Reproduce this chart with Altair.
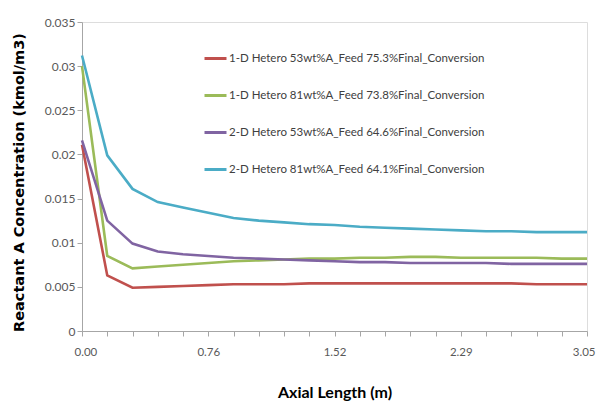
import altair as alt
import pandas as pd
import json

series_names = [
    "1-D Hetero 53wt%A_Feed 75.3%Final_Conversion",
    "1-D Hetero 81wt%A_Feed 73.8%Final_Conversion",
    "2-D Hetero 53wt%A_Feed 64.6%Final_Conversion",
    "2-D Hetero 81wt%A_Feed 64.1%Final_Conversion",
]
colors = ["#C0504D", "#9BBB59", "#8064A2", "#4BACC6"]

# axial positions (category index 0..20 spanning 0 to 3.05 m)
positions = list(range(21))
x_tick_labels = ["0.00", "0.76", "1.52", "2.29", "3.05"]

red = [0.0211, 0.0063, 0.0049, 0.0050, 0.0051, 0.0052, 0.0053, 0.0053, 0.0053, 0.0054, 0.0054,
       0.0054, 0.0054, 0.0054, 0.0054, 0.0054, 0.0054, 0.0054, 0.0053, 0.0053, 0.0053]
green = [0.0300, 0.0085, 0.0071, 0.0073, 0.0075, 0.0077, 0.0079, 0.0080, 0.0081, 0.0082, 0.0082,
         0.0083, 0.0083, 0.0084, 0.0084, 0.0083, 0.0083, 0.0083, 0.0083, 0.0082, 0.0082]
purple = [0.0216, 0.0125, 0.0099, 0.0090, 0.0087, 0.0085, 0.0083, 0.0082, 0.0081, 0.0080, 0.0079,
          0.0078, 0.0078, 0.0077, 0.0077, 0.0077, 0.0077, 0.0076, 0.0076, 0.0076, 0.0076]
cyan = [0.0312, 0.0199, 0.0161, 0.0146, 0.0140, 0.0134, 0.0128, 0.0125, 0.0123, 0.0121, 0.0120,
        0.0118, 0.0117, 0.0116, 0.0115, 0.0114, 0.0113, 0.0113, 0.0112, 0.0112, 0.0112]

rows = []
for name, vals in zip(series_names, [red, green, purple, cyan]):
    for p, v in zip(positions, vals):
        rows.append({"series": name, "pos": p, "conc": v})
df = pd.DataFrame(rows)

label_expr = ("datum.value % 5 === 0 ? " + json.dumps(x_tick_labels).replace('"', "'")
              + "[datum.value / 5] : ''")

chart = alt.Chart(df).mark_line(strokeWidth=2.6).encode(
    x=alt.X("pos:Q",
            scale=alt.Scale(domain=[0, 20], nice=False, zero=False),
            axis=alt.Axis(values=positions, labelExpr=label_expr, grid=False,
                          title="Axial Length (m)", titleFont="Lato", titleFontSize=16,
                          titleFontWeight="bold", titleColor="#000000",
                          titleBaseline="alphabetic", titleY=66,
                          labelFont="Lato", labelFontSize=11.5, labelColor="#595959",
                          labelPadding=10, tickSize=5, tickColor="#A6A6A6",
                          domainColor="#A6A6A6", labelFlush=True, labelFlushOffset=8)),
    y=alt.Y("conc:Q",
            scale=alt.Scale(domain=[0, 0.035], nice=False),
            axis=alt.Axis(values=[0, 0.005, 0.01, 0.015, 0.02, 0.025, 0.03, 0.035],
                          labelExpr="datum.value === 0 ? '0' : format(datum.value, '~g')",
                          grid=False, title="Reactant A Concentration (kmol/m3)",
                          titleFont="DejaVu Sans", titleFontSize=14.5, titleFontWeight="bold",
                          titleColor="#000000", titleX=-63, titleY=160,
                          titleAlign="center", titleBaseline="middle", titleAngle=-90,
                          labelFont="Lato", labelFontSize=12, labelColor="#595959",
                          labelPadding=2, tickSize=5, tickColor="#A6A6A6",
                          domainColor="#A6A6A6")),
    color=alt.Color("series:N",
                    scale=alt.Scale(domain=series_names, range=colors),
                    legend=alt.Legend(orient="none", legendX=121, legendY=24, title=None,
                                      symbolType="stroke", symbolSize=484,
                                      symbolStrokeWidth=3, rowPadding=18,
                                      labelFont="Lato", labelFontSize=11.5,
                                      labelColor="#404040", labelOffset=1,
                                      labelLimit=400)),
).properties(
    width=505, height=309,
    autosize=alt.AutoSizeParams(type="none"),
    padding={"left": 82, "top": 22, "right": 9, "bottom": 71},
).configure_view(stroke=None).configure(background="white")

chart.save("out.html", embed_options={"renderer": "svg", "actions": False})
